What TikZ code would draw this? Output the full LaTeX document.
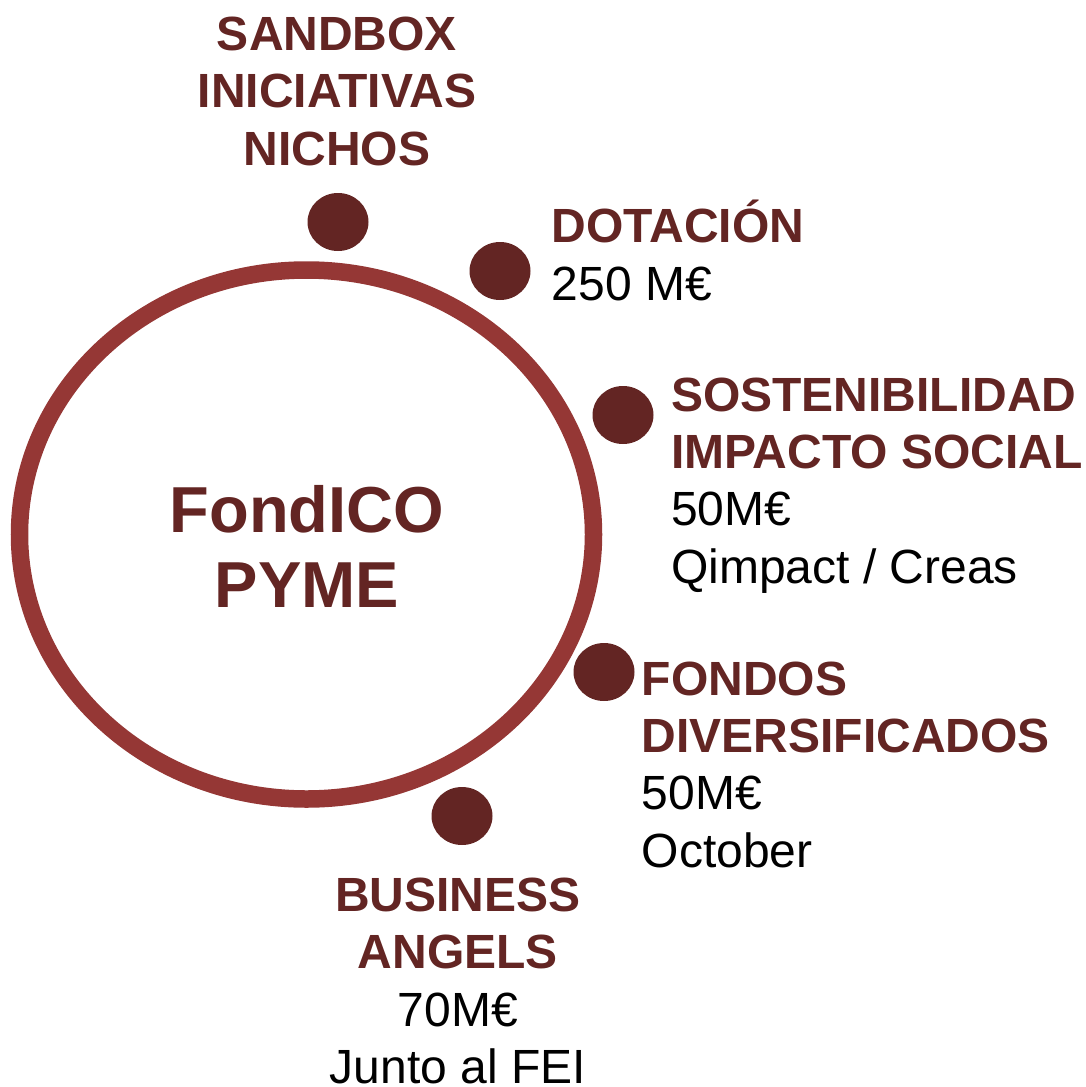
\documentclass[tikz,border=0pt]{standalone}
\usepackage{fontspec}
\setmainfont{Liberation Sans}
\usetikzlibrary{shapes.geometric}
\definecolor{dred}{HTML}{632523}
\definecolor{ringred}{HTML}{953735}
\tikzset{
  dot/.style={shape=ellipse, fill=dred, draw=none, minimum width=61pt, minimum height=58pt, inner sep=0pt},
  lbl/.style={inner sep=0pt, font=\fontsize{48}{57.3}\selectfont},
}
\newcommand{\hdl}[1]{\textcolor{dred}{\bfseries #1}}
\begin{document}
\begin{tikzpicture}[x=1pt, y=-1pt]
\useasboundingbox (0,0) rectangle (1085,1087);
% ring
\node[shape=ellipse, draw=ringred, line width=17.5pt, minimum width=574pt, minimum height=529pt, inner sep=0pt] (ring) at (306.5,534.5) {};
% base anchor of a multi-line node = baseline of its last line
\node[inner sep=0pt, align=center, anchor=base, text=dred, font=\bfseries\fontsize{65}{75}\selectfont] (center) at (307,607) {FondICO\\PYME};
% dots
\node[dot] (d1) at (338,222) {};
\node[dot] (d2) at (500,271) {};
\node[dot] (d3) at (623,415) {};
\node[dot] (d4) at (604,672) {};
\node[dot] (d5) at (462,816) {};
% labels
\node[lbl, align=center, anchor=base] (l1) at (337,165) {\hdl{SANDBOX}\\\hdl{INICIATIVAS}\\\hdl{NICHOS}};
\node[lbl, align=left, anchor=base west] (l2) at (551.5,300) {\hdl{DOTACIÓN}\\250 M€};
\node[lbl, align=left, anchor=base west] (l3) at (671,583) {\hdl{SOSTENIBILIDAD}\\\hdl{IMPACTO SOCIAL}\\50M€\\Qimpact / Creas};
\node[lbl, align=left, anchor=base west] (l4) at (641.5,867) {\hdl{FONDOS}\\\hdl{DIVERSIFICADOS}\\50M€\\October};
\node[lbl, align=center, anchor=base] (l5) at (458,1083.5) {\hdl{BUSINESS}\\\hdl{ANGELS}\\70M€\\Junto al FEI};
\end{tikzpicture}
\end{document}
